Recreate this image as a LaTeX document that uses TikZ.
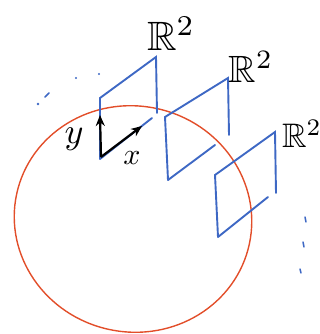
\documentclass[tikz,border=0pt]{standalone}
\usepackage{amssymb}
\usetikzlibrary{arrows.meta}
\definecolor{penblue}{RGB}{62,104,196}
\definecolor{penred}{RGB}{226,78,42}

\begin{document}
\begin{tikzpicture}[x=1pt,y=-1pt]
% sphere with its tangent planes, in pixel units
\useasboundingbox (0,0) rectangle (320,334);
\tikzset{
    plane/.style={penblue, line width=1.9pt, line cap=round},
    axis/.style={black, line width=2.2pt, -{Stealth[length=11pt,width=9pt]}},
    trail/.style={penblue, line width=1.5pt, line cap=round}
}

% the manifold
\draw[penred, line width=1.4pt, rotate around={-12:(133,219)}] (133,219) ellipse[x radius=119, y radius=113];

% tangent planes: bottom left, top left, top right, right end, bottom end
\foreach \bl/\tl/\tr/\re/\be/\lab/\sc [count=\i] in {
    {(100,159)}/{(100,98)}/{(156,57)}/{(157,113)}/{(152,118)}/{(171,34)}/4.1,
    {(168,180)}/{(165,117)}/{(228,78)}/{(229,135)}/{(215,145)}/{(251,67)}/3.8,
    {(218,237)}/{(215,175)}/{(275,132)}/{(276,193)}/{(268,197)}/{(302,134)}/3.4} {
    \draw[plane] \bl -- \tl -- \tr -- \re;
    \draw[plane] \bl -- \be;
    \node[scale=\sc] (space\i) at \lab {$\mathbb{R}^2$};
}

% local frame on the first plane
\coordinate (origin) at (101,157);
\coordinate (yend) at (100,115);
\coordinate (xend) at (142,126);
\draw[axis] (origin) -- (yend);
\draw[axis] (origin) -- (xend);
\node[scale=3.6] (ylabel) at (74,139) {$y$};
\node[scale=3] (xlabel) at (132,158) {$x$};

% more planes beyond
\fill[penblue] (38,104) circle (1.3pt);
\draw[trail] (45,97) -- (49,93);
\fill[penblue] (76,78) circle (1.1pt);
\fill[penblue] (99,74) circle (1.1pt);
\draw[trail] (305,217) -- (306,222);
\draw[trail] (303,242) -- (304,247);
\draw[trail] (300,269) -- (301,273);
\end{tikzpicture}
\end{document}
